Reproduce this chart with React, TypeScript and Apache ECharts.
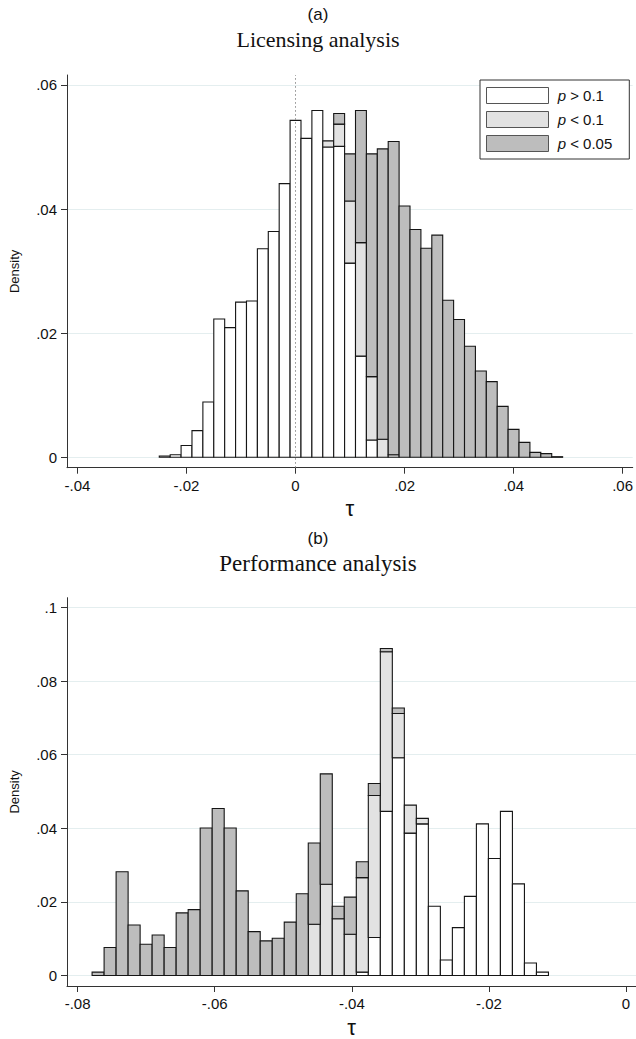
import React, { useEffect, useRef } from "react";
import * as echarts from "echarts";

// ---------- data ----------
const seriesNames = ["p > 0.1", "p < 0.1", "p < 0.05"];

// Panel (a) Licensing analysis: 37 bins, start -0.025, width 0.002
const binStartA = -0.025;
const binWidthA = 0.002;
const whiteA = [0.0002, 0.0004, 0.0019, 0.0043, 0.0089, 0.0223, 0.0209, 0.025, 0.0252, 0.0336, 0.0364, 0.0441, 0.0543, 0.0514, 0.0559, 0.05, 0.0501, 0.0313, 0.0163, 0.0028, 0, 0, 0, 0, 0, 0, 0, 0, 0, 0, 0, 0, 0, 0, 0, 0, 0];
const lightA = [0, 0, 0, 0, 0, 0, 0, 0, 0, 0, 0, 0, 0, 0, 0, 0.001, 0.0036, 0.01, 0.0183, 0.0102, 0.0029, 0.0004, 0, 0, 0, 0, 0, 0, 0, 0, 0, 0, 0, 0, 0, 0, 0];
const darkA = [0, 0, 0, 0, 0, 0, 0, 0, 0, 0, 0, 0, 0, 0, 0, 0, 0.0017, 0.0076, 0.0213, 0.0359, 0.0468, 0.0505, 0.0405, 0.0367, 0.0337, 0.0358, 0.0253, 0.0222, 0.0179, 0.0139, 0.0122, 0.0082, 0.0045, 0.0024, 0.0008, 0.0006, 0.0001];

// Panel (b) Performance analysis: 38 bins
const binStartB = -0.07789;
const binWidthB = 0.001752;
const whiteB = [0, 0, 0, 0, 0, 0, 0, 0, 0, 0, 0, 0, 0, 0, 0, 0, 0, 0, 0, 0, 0, 0, 0.0009, 0.0103, 0.0446, 0.0592, 0.0387, 0.0412, 0.0188, 0.0042, 0.013, 0.0215, 0.0412, 0.0318, 0.0446, 0.0249, 0.0034, 0.0009];
const lightB = [0, 0, 0, 0, 0, 0, 0, 0, 0, 0, 0, 0, 0, 0, 0, 0, 0, 0, 0.0139, 0.0248, 0.0154, 0.0112, 0.0257, 0.0386, 0.0434, 0.012, 0.0076, 0.0015, 0, 0, 0, 0, 0, 0, 0, 0, 0, 0];
const darkB = [0.0009, 0.0076, 0.0282, 0.0137, 0.0085, 0.011, 0.0076, 0.017, 0.0179, 0.0401, 0.0454, 0.0401, 0.023, 0.0119, 0.0094, 0.0101, 0.0145, 0.0222, 0.0221, 0.03, 0.0034, 0.0101, 0.0043, 0.0033, 0.0009, 0.0015, 0, 0, 0, 0, 0, 0, 0, 0, 0, 0, 0, 0];

const xTicksA = [-0.04, -0.02, 0, 0.02, 0.04, 0.06];
const yTicksA = [0, 0.02, 0.04, 0.06];
const xTicksB = [-0.08, -0.06, -0.04, -0.02, 0];
const yTicksB = [0, 0.02, 0.04, 0.06, 0.08, 0.1];

// ---------- style ----------
const fills = ["#ffffff", "#e2e2e2", "#bdbdbd"];
const SANS = "Liberation Sans";
const SERIF = "Liberation Serif";
const AXIS = "#333";
const GRIDC = "#e4eeef";

function fmt(v: number) {
  if (Math.abs(v) < 1e-9) return "0";
  return String(+v.toFixed(2)).replace("0.", ".");
}

function buildStack(start: number, width: number, layers: number[][]) {
  // returns per-layer data: [x0, x1, base, top, value]
  return layers.map((layer, li) =>
    layer
      .map((v, i) => {
        let base = 0;
        for (let k = 0; k < li; k++) base += layers[k][i];
        return [start + i * width, start + (i + 1) * width, base, base + v, v];
      })
      .filter((d) => d[4] > 0)
  );
}

function makeSeries(gridIdx: number, stacks: number[][][], withZeroLine: boolean) {
  return stacks.map((data, li) => {
    const s: any = {
      type: "custom",
      name: seriesNames[li],
      xAxisIndex: gridIdx,
      yAxisIndex: gridIdx,
      itemStyle: { color: fills[li] },
      encode: { x: [0, 1], y: [2, 3] },
      data,
      renderItem: (params: any, api: any) => {
        const p0 = api.coord([api.value(0), api.value(2)]);
        const p1 = api.coord([api.value(1), api.value(3)]);
        return {
          type: "rect",
          shape: { x: p0[0], y: p1[1], width: p1[0] - p0[0], height: p0[1] - p1[1] },
          style: { fill: fills[li], stroke: "#151515", lineWidth: 1.1 },
        };
      },
      z: 3,
    };
    if (withZeroLine && li === 0) {
      s.markLine = {
        silent: true,
        symbol: ["none", "none"],
        label: { show: false },
        lineStyle: { type: [1.5, 2.5], color: "#8a8a8a", width: 1 },
        data: [{ xAxis: 0 }],
        z: 20,
      };
    }
    return s;
  });
}

function xAxis(gridIndex: number, min: number, max: number, ticks: number[]) {
  return {
    type: "value",
    gridIndex,
    min,
    max,
    name: "τ",
    nameLocation: "middle",
    nameGap: 30,
    nameTextStyle: { fontFamily: SANS, fontSize: 22, color: "#111" },
    axisLine: { show: true, onZero: false, lineStyle: { color: AXIS, width: 1 } },
    axisTick: { show: true, length: 6, customValues: ticks, lineStyle: { color: AXIS } },
    axisLabel: { customValues: ticks, formatter: fmt, margin: 10, fontFamily: SANS, fontSize: 15, color: "#111" },
    splitLine: { show: false },
  };
}

function yAxis(gridIndex: number, min: number, max: number, ticks: number[]) {
  return {
    type: "value",
    gridIndex,
    min,
    max,
    name: "Density",
    nameLocation: "middle",
    nameGap: 46,
    nameTextStyle: { fontFamily: SANS, fontSize: 13, color: "#111" },
    axisLine: { show: true, onZero: false, lineStyle: { color: AXIS, width: 1 } },
    axisTick: { show: true, length: 6, customValues: ticks, lineStyle: { color: AXIS } },
    axisLabel: { customValues: ticks, formatter: fmt, margin: 10, fontFamily: SANS, fontSize: 15, color: "#111" },
    splitLine: { show: true, lineStyle: { color: GRIDC, width: 1 } },
  };
}

export default function App() {
  const ref = useRef<HTMLDivElement>(null);
  useEffect(() => {
    if (!ref.current) return;
    const chart = echarts.init(ref.current, null, { renderer: "svg" });
    const stacksA = buildStack(binStartA, binWidthA, [whiteA, lightA, darkA]);
    const stacksB = buildStack(binStartB, binWidthB, [whiteB, lightB, darkB]);
    const option: any = {
      animation: false,
      backgroundColor: "#fff",
      title: [
        { text: "(a)", left: "center", top: 6, padding: 0, textStyle: { fontFamily: SANS, fontSize: 17, fontWeight: "normal", color: "#111" } },
        { text: "Licensing analysis", left: "center", top: 28, padding: 0, textStyle: { fontFamily: SERIF, fontSize: 22, fontWeight: "normal", color: "#111" } },
        { text: "(b)", left: "center", top: 530, padding: 0, textStyle: { fontFamily: SANS, fontSize: 17, fontWeight: "normal", color: "#111" } },
        { text: "Performance analysis", left: "center", top: 552, padding: 0, textStyle: { fontFamily: SERIF, fontSize: 23, fontWeight: "normal", color: "#111" } },
      ],
      legend: {
        orient: "vertical",
        left: 480,
        top: 80,
        padding: [7, 17, 7, 6],
        itemGap: 7,
        itemWidth: 62,
        itemHeight: 16,
        backgroundColor: "#fff",
        borderColor: "#333",
        borderWidth: 1,
        borderRadius: 0,
        selectedMode: false,
        data: seriesNames.map((n, i) => ({
          name: n,
          icon: "rect",
          itemStyle: { color: fills[i], borderColor: "#555", borderWidth: 1 },
        })),
        formatter: (name: string) => " {i|p}" + name.slice(1),
        textStyle: {
          fontFamily: SANS,
          fontSize: 15,
          color: "#111",
          rich: { i: { fontFamily: SANS, fontSize: 15, fontStyle: "italic", color: "#111" } },
        },
      },
      grid: [
        { left: 66.7, right: 0, top: 75, height: 392.7, containLabel: false },
        { left: 66.7, right: 0, top: 597.7, height: 393, containLabel: false },
      ],
      xAxis: [
        xAxis(0, -0.04193, 0.06186, xTicksA),
        xAxis(1, -0.08155, 0.001458, xTicksB),
      ],
      yAxis: [
        yAxis(0, -0.001676, 0.06161, yTicksA),
        yAxis(1, -0.00287, 0.10269, yTicksB),
      ],
      series: [...makeSeries(0, stacksA, true), ...makeSeries(1, stacksB, false)],
    };
    chart.setOption(option);
    return () => chart.dispose();
  }, []);
  return (
    <div
      ref={ref}
      style={{ position: "absolute", left: 0, top: 0, width: 636, height: 1039, background: "#fff" }}
    />
  );
}
